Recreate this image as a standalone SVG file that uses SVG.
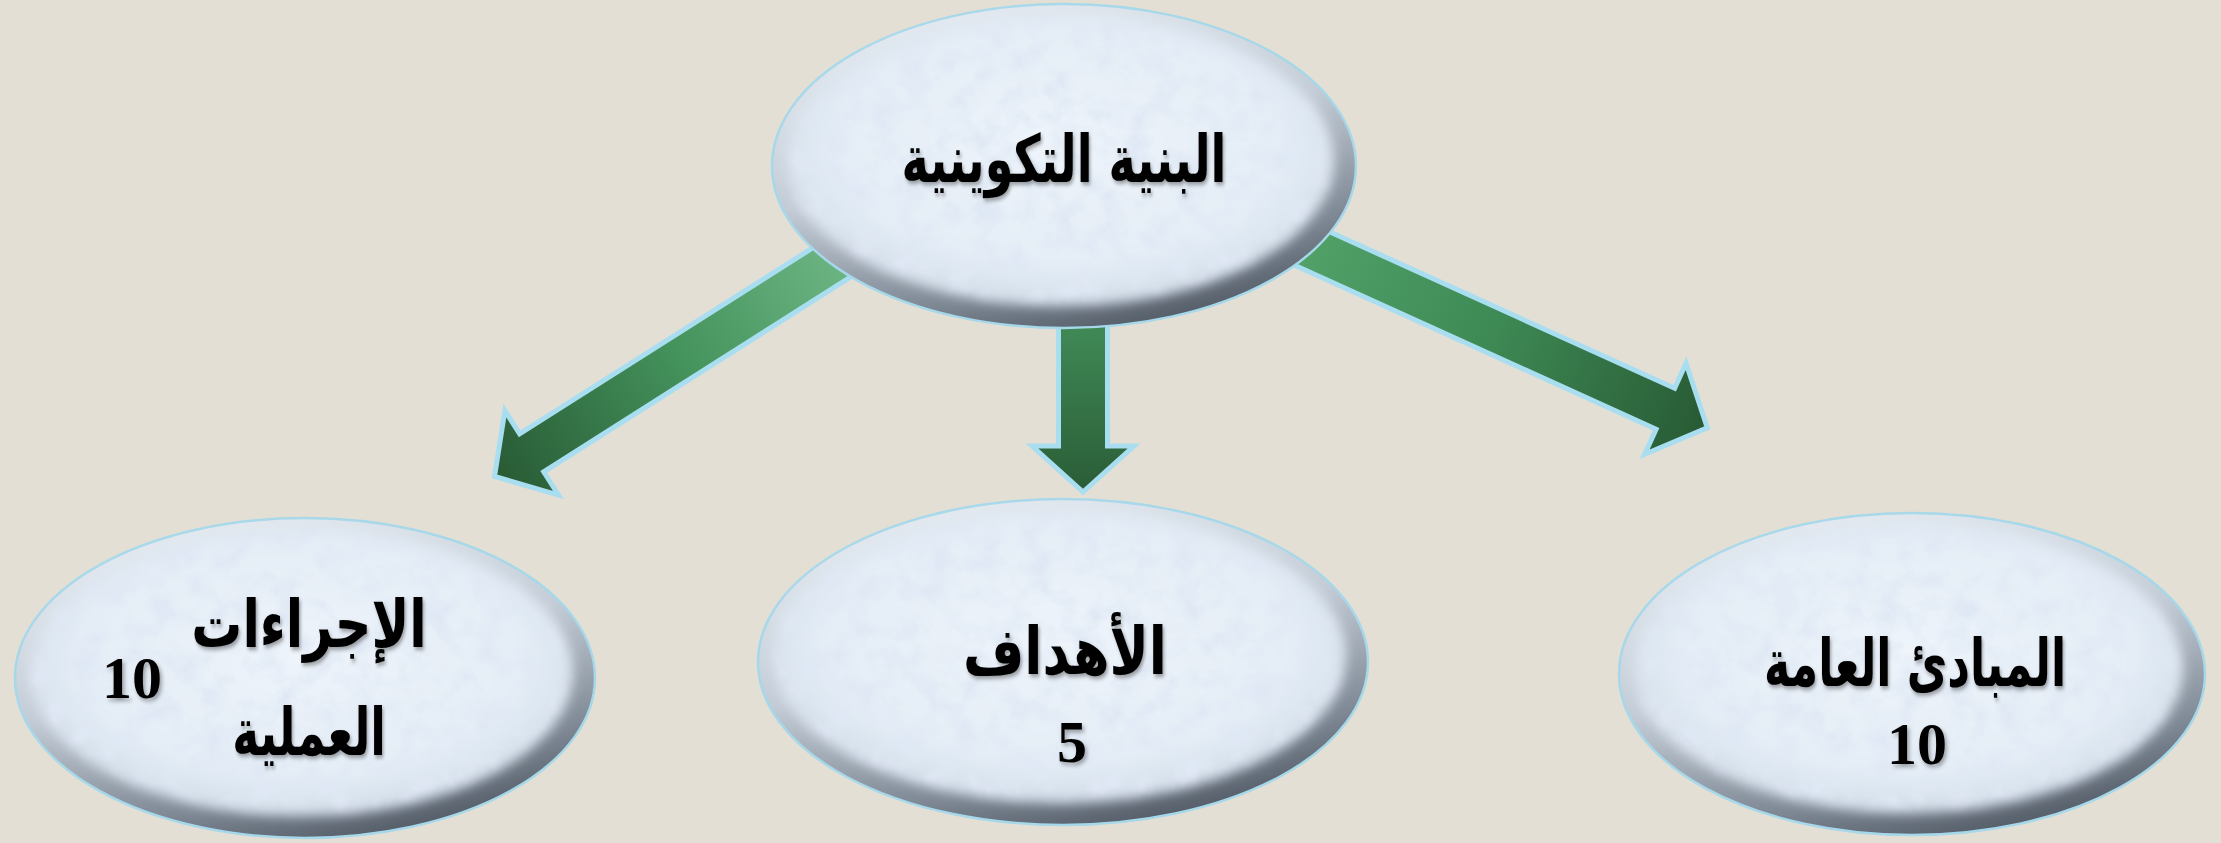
<svg xmlns="http://www.w3.org/2000/svg" width="2221" height="843" viewBox="0 0 2221 843">
  <style>
    .bg { fill: #e4dfd4; }
    .rim { fill: url(#rimGrad); stroke: #a6d8ea; stroke-width: 2.5; }
    .face { fill: url(#faceGrad); filter: url(#faceFx); }
    .arrow { stroke: #a9def1; stroke-width: 5; stroke-linejoin: miter; stroke-miterlimit: 10; }
    .ar { font-family: "DejaVu Sans", sans-serif; font-weight: bold; font-size: 66px; fill: #000; text-anchor: middle; filter: url(#txtShadow); }
    .num { font-family: "Liberation Serif", serif; font-weight: bold; font-size: 60px; fill: #000; text-anchor: middle; filter: url(#txtShadow); }
  </style>
  <defs>
    <linearGradient id="rimGrad" x1="0.3" y1="0" x2="0.7" y2="1">
      <stop offset="0" stop-color="#e6ebf1"/>
      <stop offset="0.45" stop-color="#c3ccd6"/>
      <stop offset="0.8" stop-color="#7d8793"/>
      <stop offset="1" stop-color="#4d5661"/>
    </linearGradient>
    <radialGradient id="faceGrad" cx="0.5" cy="0.45" r="0.55">
      <stop offset="0" stop-color="#eef4fa"/>
      <stop offset="0.75" stop-color="#e4edf6"/>
      <stop offset="1" stop-color="#d2dce8"/>
    </radialGradient>
    <filter id="faceFx" x="-10%" y="-10%" width="120%" height="120%">
      <feGaussianBlur in="SourceGraphic" stdDeviation="6" result="b"/>
      <feTurbulence type="fractalNoise" baseFrequency="0.04" numOctaves="4" seed="7" result="n"/>
      <feColorMatrix in="n" type="matrix" values="0 0 0 0 0.74  0 0 0 0 0.81  0 0 0 0 0.91  2.6 0 0 0 -1.05" result="spots"/>
      <feComposite in="spots" in2="b" operator="atop"/>
    </filter>
    <filter id="txtShadow" x="-10%" y="-20%" width="120%" height="140%">
      <feDropShadow dx="2" dy="3" stdDeviation="2" flood-color="#000" flood-opacity="0.35"/>
    </filter>
    <linearGradient id="gLeft" x1="0" y1="0" x2="1" y2="0">
      <stop offset="0" stop-color="#72ba88"/>
      <stop offset="0.5" stop-color="#44925c"/>
      <stop offset="1" stop-color="#285a34"/>
    </linearGradient>
    <linearGradient id="gRight" x1="0" y1="0" x2="1" y2="0">
      <stop offset="0" stop-color="#55a56c"/>
      <stop offset="0.5" stop-color="#3e8a55"/>
      <stop offset="1" stop-color="#285a34"/>
    </linearGradient>
    <linearGradient id="gMid" x1="0" y1="0" x2="1" y2="0">
      <stop offset="0" stop-color="#44925c"/>
      <stop offset="1" stop-color="#2a5c36"/>
    </linearGradient>
  </defs>

  <rect class="bg" x="0" y="0" width="2221" height="843"/>

  <g id="connectors">
    <polygon class="arrow" fill="url(#gLeft)" transform="translate(492 478) rotate(147.6)" points="-440,-22.5 -47,-22.5 -47,-50 -3,0 -47,50 -47,22.5 -440,22.5"/>
    <polygon class="arrow" fill="url(#gMid)" transform="translate(1083 495) rotate(90)" points="-200,-24.5 -49,-24.5 -49,-51 -3,0 -49,51 -49,24.5 -200,24.5"/>
    <polygon class="arrow" fill="url(#gRight)" transform="translate(1710 429) rotate(24.4)" points="-480,-22.5 -49,-22.5 -49,-50 -3,0 -49,50 -49,22.5 -480,22.5"/>
  </g>

  <g id="node-top">
    <ellipse class="rim" cx="1064" cy="166" rx="292" ry="162"/>
    <ellipse class="face" cx="1060" cy="160" rx="274" ry="146"/>
    <text class="ar" transform="translate(1064 182) scale(0.70 1)">البنية التكوينية</text>
  </g>

  <g id="node-left">
    <ellipse class="rim" cx="305" cy="678" rx="290" ry="160"/>
    <ellipse class="face" cx="301" cy="672" rx="272" ry="144"/>
    <text class="ar" transform="translate(309 647) scale(0.77 1)">الإجراءات</text>
    <text class="ar" transform="translate(309 755) scale(0.69 1)">العملية</text>
    <text class="num" x="132" y="698">10</text>
  </g>

  <g id="node-middle">
    <ellipse class="rim" cx="1063" cy="662" rx="305" ry="163"/>
    <ellipse class="face" cx="1059" cy="656" rx="287" ry="147"/>
    <text class="ar" transform="translate(1065 674) scale(0.8 1)">الأهداف</text>
    <text class="num" x="1072" y="762">5</text>
  </g>

  <g id="node-right">
    <ellipse class="rim" cx="1912" cy="674" rx="293" ry="161"/>
    <ellipse class="face" cx="1908" cy="668" rx="275" ry="145"/>
    <text class="ar" transform="translate(1915 686) scale(0.67 1)">المبادئ العامة</text>
    <text class="num" x="1917" y="764">10</text>
  </g>
</svg>
